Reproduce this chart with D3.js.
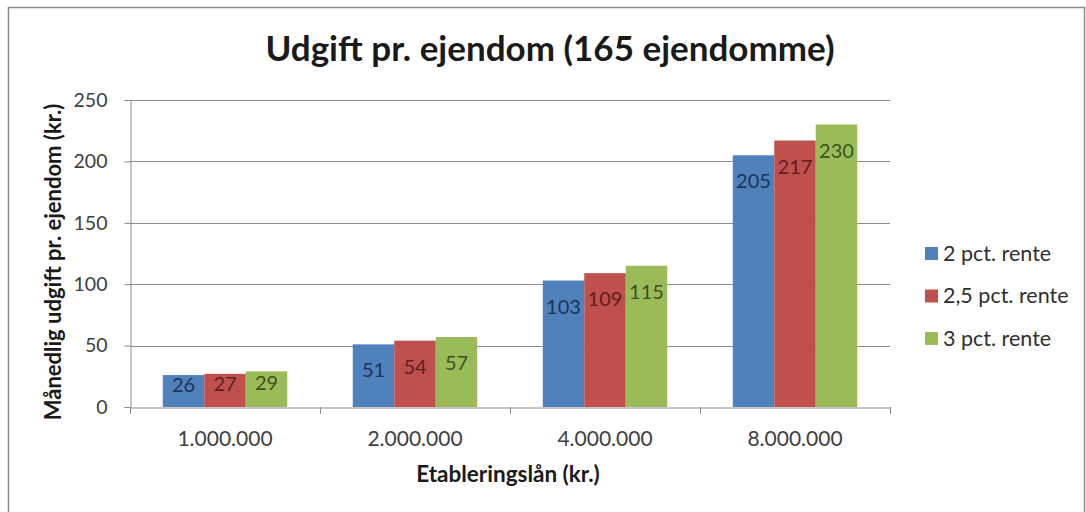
<!DOCTYPE html>
<html>
<head>
<meta charset="utf-8">
<script src="https://cdn.jsdelivr.net/npm/d3@7"></script>
<style>
  body { margin: 0; background: #fff; }
  text { font-family: Lato, "Open Sans", sans-serif; }
</style>
</head>
<body>
<svg id="chart" width="1086" height="512"></svg>
<script>
const categories = ["1.000.000", "2.000.000", "4.000.000", "8.000.000"];
const seriesNames = ["2 pct. rente", "2,5 pct. rente", "3 pct. rente"];
const rente2 = [26, 51, 103, 205];
const rente25 = [27, 54, 109, 217];
const rente3 = [29, 57, 115, 230];
const yTicks = [0, 50, 100, 150, 200, 250];

const colors = ["#4F81BD", "#C0504D", "#9BBB59"];
const labelColors = ["#1B3458", "#5E1F1D", "#3E5220"];

const svg = d3.select("#chart");

// frame
svg.append("rect")
  .attr("x", 8.5).attr("y", 7.5)
  .attr("width", 1076).attr("height", 520)
  .attr("fill", "none").attr("stroke", "#8a8a8a").attr("stroke-width", 1.5);

const plot = {left: 130, right: 890, top: 100, bottom: 407};

const x0 = d3.scaleBand().domain(categories).range([plot.left, plot.right]).paddingInner(0).paddingOuter(0);
const x1 = d3.scaleBand().domain(d3.range(3)).range([0, x0.bandwidth()]).paddingInner(0).paddingOuter(0.79);
const y = d3.scaleLinear().domain([0, 250]).range([plot.bottom, plot.top]);

// gridlines
svg.append("g").selectAll("line").data(yTicks.filter(d => d > 0)).join("line")
  .attr("x1", plot.left).attr("x2", plot.right)
  .attr("y1", d => Math.round(y(d)) + 0.5).attr("y2", d => Math.round(y(d)) + 0.5)
  .attr("stroke", "#8c8c8c");

// y axis
const yAxis = svg.append("g")
  .attr("transform", `translate(${plot.left + 0.5},0)`)
  .call(d3.axisLeft(y).tickValues(yTicks).tickSize(6).tickPadding(17));
yAxis.select(".domain").attr("stroke", "#8c8c8c");
yAxis.selectAll(".tick line").attr("stroke", "#8c8c8c");
yAxis.selectAll(".tick text").attr("font-size", 19.5).attr("fill", "#404040")
  .attr("font-family", "Lato, sans-serif");

// bars
const series = [rente2, rente25, rente3];
const groups = svg.append("g").selectAll("g").data(categories).join("g")
  .attr("transform", d => `translate(${x0(d)},0)`);

groups.selectAll("rect").data((c, i) => series.map((s, k) => ({k, v: s[i]}))).join("rect")
  .attr("x", d => x1(d.k))
  .attr("width", x1.bandwidth())
  .attr("y", d => y(d.v))
  .attr("height", d => y(0) - y(d.v))
  .attr("fill", d => colors[d.k]);

groups.selectAll("text").data((c, i) => series.map((s, k) => ({k, v: s[i]}))).join("text")
  .attr("x", d => x1(d.k) + x1.bandwidth() / 2)
  .attr("y", d => {
    const h = y(0) - y(d.v);
    return y(d.v) + Math.min(33, h / 2 + 1);
  })
  .attr("text-anchor", "middle")
  .attr("font-size", 20)
  .attr("fill", d => labelColors[d.k])
  .text(d => d.v);

// x axis
const xAxis = svg.append("g")
  .attr("transform", `translate(0,${plot.bottom + 0.5})`)
  .call(d3.axisBottom(x0).tickSize(0).tickPadding(0));
xAxis.select(".domain").attr("stroke", "#8c8c8c");
xAxis.selectAll(".tick text").attr("font-size", 21).attr("fill", "#404040")
  .attr("font-family", "Lato, sans-serif")
  .attr("dy", null).attr("y", 38.5);
// category separator ticks
svg.append("g").selectAll("line").data(categories.concat([null])).join("line")
  .attr("x1", (d, i) => Math.round(plot.left + i * x0.bandwidth()) + 0.5)
  .attr("x2", (d, i) => Math.round(plot.left + i * x0.bandwidth()) + 0.5)
  .attr("y1", plot.bottom).attr("y2", plot.bottom + 7)
  .attr("stroke", "#8c8c8c");

// title
svg.append("text")
  .attr("x", 550).attr("y", 61)
  .attr("text-anchor", "middle")
  .attr("font-size", 35).attr("font-weight", "bold").attr("fill", "#1a1a1a")
  .text("Udgift pr. ejendom (165 ejendomme)");

// axis titles
svg.append("text")
  .attr("transform", "translate(61,262) rotate(-90)")
  .attr("text-anchor", "middle")
  .attr("font-size", 22).attr("font-weight", "bold").attr("fill", "#1a1a1a")
  .text("Månedlig udgift pr. ejendom (kr.)");

svg.append("text")
  .attr("x", 508).attr("y", 482)
  .attr("text-anchor", "middle")
  .attr("font-size", 22.5).attr("font-weight", "bold").attr("fill", "#1a1a1a")
  .text("Etableringslån (kr.)");

// legend
const legend = svg.append("g").selectAll("g").data(seriesNames).join("g")
  .attr("transform", (d, i) => `translate(925,${253 + i * 42.5})`);
legend.append("rect")
  .attr("x", 0).attr("y", -6).attr("width", 13).attr("height", 13)
  .attr("fill", (d, i) => colors[i]);
legend.append("text")
  .attr("x", 18).attr("y", 7.5)
  .attr("font-size", 21.5).attr("fill", "#303030")
  .text(d => d);
</script>
</body>
</html>
